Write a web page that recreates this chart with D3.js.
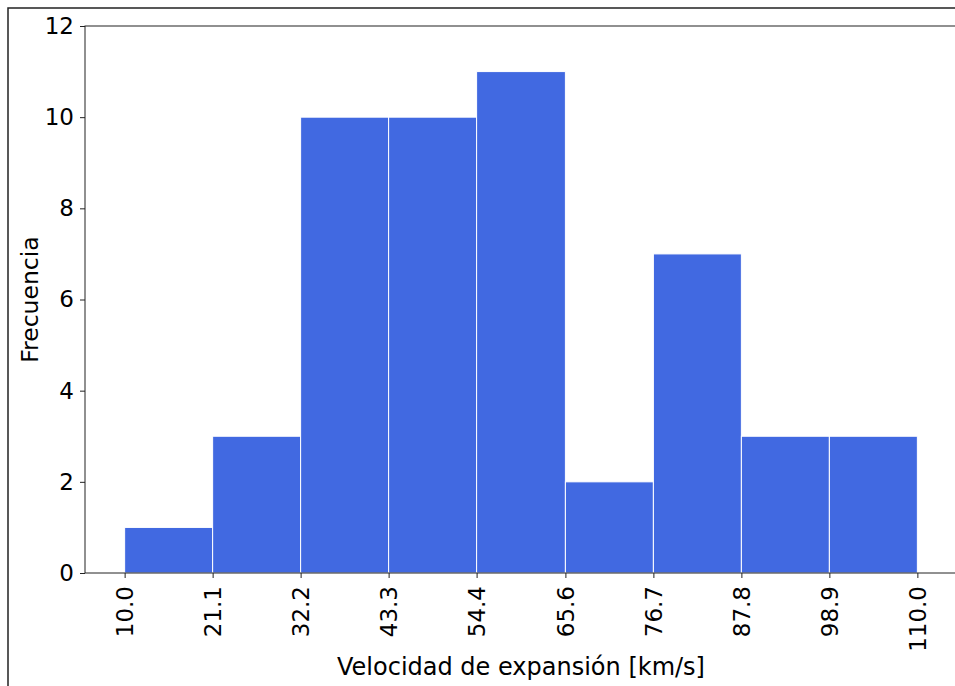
<!DOCTYPE html>
<html>
<head>
<meta charset="utf-8">
<script src="https://cdn.jsdelivr.net/npm/d3@7"></script>
<style>
  body { margin: 0; background: #fff; }
  svg { display: block; font-family: "DejaVu Sans", sans-serif; }
</style>
</head>
<body>
<script>
// bin edges and counts
var binEdges = [ 10.0, 21.1, 32.2, 43.3, 54.4, 65.6, 76.7, 87.8, 98.9, 110.0 ];
var counts = [ 1, 3, 10, 10, 11, 2, 7, 3, 3 ];
var edgeLabels = [ "10.0", "21.1", "32.2", "43.3", "54.4", "65.6", "76.7", "87.8", "98.9", "110.0" ];
var yTicks = [ 0, 2, 4, 6, 8, 10, 12 ];

var width = 955, height = 686;
var plotLeft = 85, plotTop = 26, plotBottom = 573, plotRight = 957;

var bins = counts.map( function ( c, i ) {
	return { x0: binEdges[i], x1: binEdges[i + 1], n: c };
} );

var xScale = d3.scaleLinear().domain( [ 5, 115 ] ).range( [ plotLeft, plotRight ] );
var yScale = d3.scaleLinear().domain( [ 0, 12 ] ).range( [ plotBottom, plotTop ] );

var svg = d3.select( "body" ).append( "svg" )
	.attr( "width", width )
	.attr( "height", height );

// figure frame
svg.append( "rect" )
	.attr( "x", 8 ).attr( "y", 8 )
	.attr( "width", 1000 ).attr( "height", 1000 )
	.attr( "fill", "none" )
	.attr( "stroke", "#222" )
	.attr( "stroke-width", 1.5 );

svg.append( "g" )
	.selectAll( "rect" )
	.data( bins )
	.enter()
	.append( "rect" )
	.attr( "x", function ( d ) { return xScale( d.x0 ); } )
	.attr( "y", function ( d ) { return yScale( d.n ); } )
	.attr( "width", function ( d ) { return xScale( d.x1 ) - xScale( d.x0 ); } )
	.attr( "height", function ( d ) { return yScale( 0 ) - yScale( d.n ); } )
	.attr( "fill", "#4169E1" )
	.attr( "stroke", "#ffffff" )
	.attr( "stroke-width", 1 );

// spines
svg.append( "rect" )
	.attr( "x", plotLeft ).attr( "y", plotTop )
	.attr( "width", plotRight - plotLeft ).attr( "height", plotBottom - plotTop )
	.attr( "fill", "none" )
	.attr( "stroke", "#222" )
	.attr( "stroke-width", 1 );

var xAxis = svg.append( "g" )
	.attr( "transform", "translate(0," + plotBottom + ")" )
	.call( d3.axisBottom( xScale )
		.tickValues( binEdges )
		.tickFormat( function ( d, i ) { return edgeLabels[i]; } )
		.tickSize( 5 )
		.tickPadding( 4 ) );
xAxis.select( ".domain" ).remove();
xAxis.selectAll( "line" ).attr( "stroke", "#222" );
xAxis.selectAll( "text" )
	.attr( "font-size", "23px" )
	.attr( "font-family", "DejaVu Sans" )
	.attr( "fill", "#000" )
	.attr( "text-anchor", "end" )
	.attr( "dy", "0.35em" )
	.attr( "y", 0 )
	.attr( "transform", "translate(0,13) rotate(-90)" );

var yAxis = svg.append( "g" )
	.attr( "transform", "translate(" + plotLeft + ",0)" )
	.call( d3.axisLeft( yScale )
		.tickValues( yTicks )
		.tickSize( 5 )
		.tickPadding( 6 ) );
yAxis.select( ".domain" ).remove();
yAxis.selectAll( "line" ).attr( "stroke", "#222" );
yAxis.selectAll( "text" )
	.attr( "font-size", "23px" )
	.attr( "font-family", "DejaVu Sans" )
	.attr( "fill", "#000" );

svg.append( "text" )
	.attr( "transform", "rotate(-90)" )
	.attr( "x", -( plotTop + plotBottom ) / 2 )
	.attr( "y", 38 )
	.attr( "text-anchor", "middle" )
	.style( "font-size", "23.5px" )
	.text( "Frecuencia" );

svg.append( "text" )
	.attr( "x", ( plotLeft + plotRight ) / 2 )
	.attr( "y", 675 )
	.attr( "text-anchor", "middle" )
	.style( "font-size", "24px" )
	.text( "Velocidad de expansión [km/s]" );
</script>
</body>
</html>
